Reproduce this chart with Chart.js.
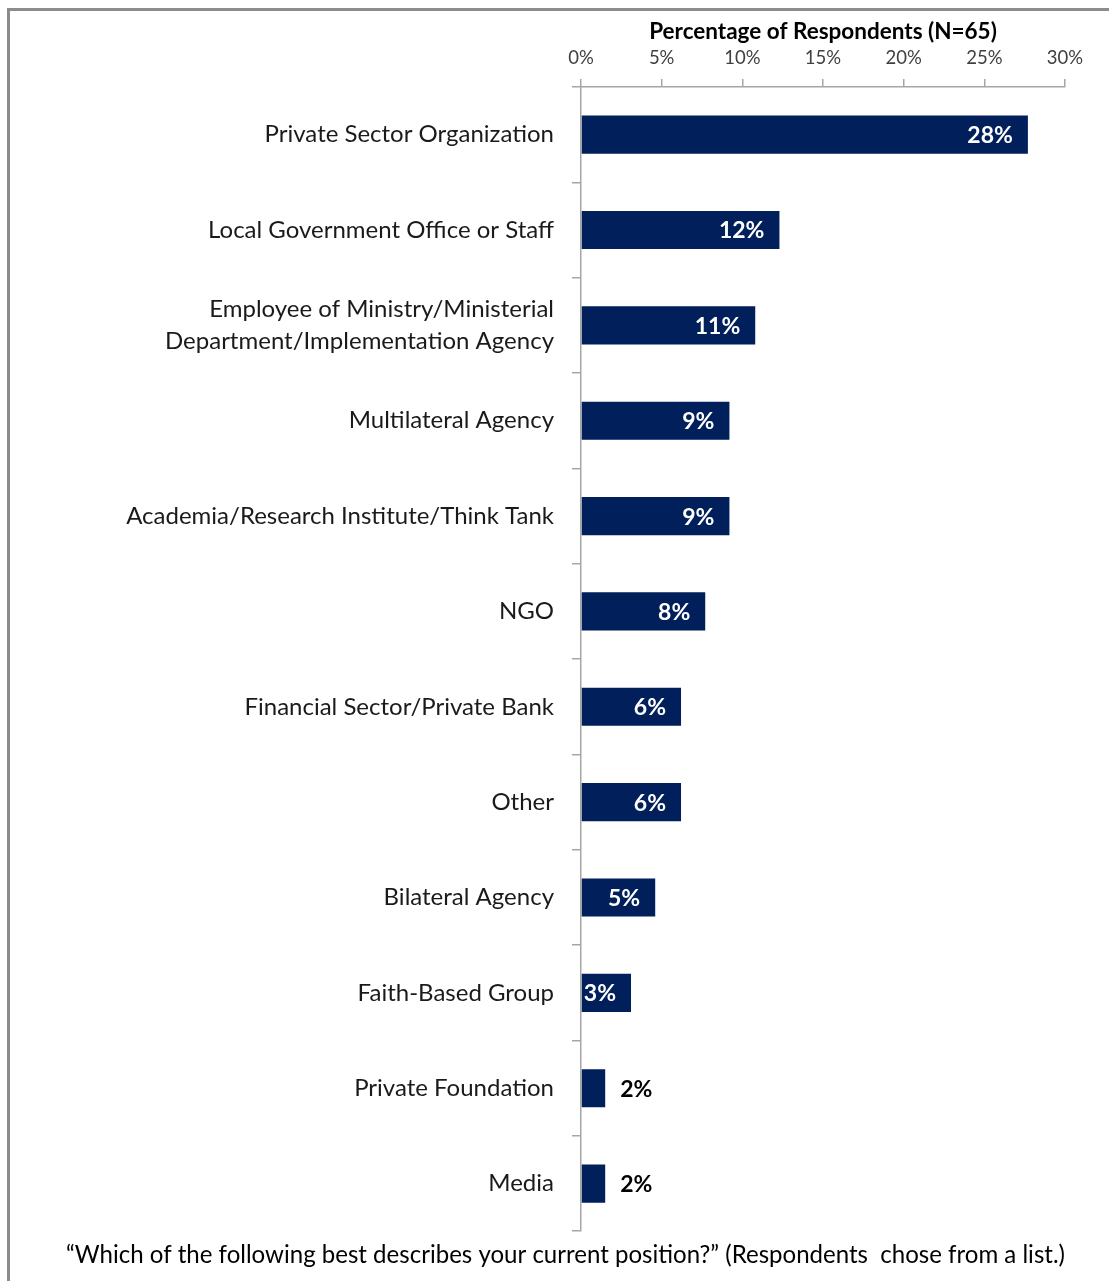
<!DOCTYPE html>
<html>
<head>
<meta charset="utf-8">
<script src="https://cdn.jsdelivr.net/npm/chart.js@4.4.1/dist/chart.umd.min.js"></script>
<style>
  html, body { margin: 0; padding: 0; background: #fff; overflow: hidden; }
  #frame { position: absolute; left: 7px; top: 8px; width: 1300px; height: 1400px;
           border-left: 3px solid #8c8c8c; border-top: 3px solid #8c8c8c; }
  #wrap { position: absolute; left: 0; top: 0; width: 1109px; height: 1281px; }
</style>
</head>
<body>
<div id="frame"></div>
<div id="wrap"><canvas id="myChart" width="1109" height="1281"></canvas></div>
<script>
// categories and values (percent of 65 respondents)
const categories = [
    'Private Sector Organization',
    'Local Government Office or Staff',
    ['Employee of Ministry/Ministerial', 'Department/Implementation Agency'],
    'Multilateral Agency',
    'Academia/Research Institute/Think Tank',
    'NGO',
    'Financial Sector/Private Bank',
    'Other',
    'Bilateral Agency',
    'Faith-Based Group',
    'Private Foundation',
    'Media'
];
const percentValues = [27.7, 12.3, 10.8, 9.2, 9.2, 7.7, 6.2, 6.2, 4.6, 3.1, 1.5, 1.5];
const xTicks = [0, 5, 10, 15, 20, 25, 30];

const axisTitle = 'Percentage of Respondents (N=65)';
const footnote = '\u201CWhich of the following best describes your current position?\u201D (Respondents  chose from a list.)';

const barColor = '#001f5b';
const axisGray = '#a6a6a6';

// value labels: inside the bar end in white, outside in black when the bar is short
const barLabels = {
    id: 'barLabels',
    afterDatasetsDraw(chart) {
        var ctx = chart.ctx;
        var meta = chart.getDatasetMeta(0);
        ctx.save();
        ctx.font = 'bold 23px Lato';
        ctx.textBaseline = 'middle';
        meta.data.forEach((bar, i) => {
            var text = Math.round(percentValues[i]) + '%';
            var w = ctx.measureText(text).width;
            var barWidth = bar.x - bar.base;
            if (barWidth > w + 12) {
                ctx.fillStyle = '#ffffff';
                ctx.textAlign = 'right';
                ctx.fillText(text, bar.x - 15, bar.y + 1);
            } else {
                ctx.fillStyle = '#000000';
                ctx.textAlign = 'left';
                ctx.fillText(text, bar.x + 15, bar.y + 1);
            }
        });
        ctx.restore();
    }
};

var ctx = document.getElementById('myChart').getContext('2d');
var myChart = new Chart(ctx, {
    type: 'bar',
    data: {
        labels: categories,
        datasets: [{
            data: percentValues,
            backgroundColor: barColor,
            borderWidth: 0,
            barPercentage: 0.4,
            categoryPercentage: 1
        }]
    },
    options: {
        indexAxis: 'y',
        responsive: false,
        animation: false,
        layout: { padding: { left: 66, right: 44, top: 14, bottom: 0 } },
        plugins: {
            legend: { display: false },
            tooltip: { enabled: false },
            title: {
                display: true,
                position: 'bottom',
                text: footnote,
                color: '#000',
                font: { family: 'Lato', size: 24.8, weight: 'normal' },
                padding: { top: 9, bottom: 11 }
            }
        },
        scales: {
            x: {
                position: 'top',
                min: 0,
                max: 30,
                afterBuildTicks: function(scale) {
                    scale.ticks = xTicks.map(v => ({ value: v }));
                },
                afterFit: function(scale) { scale.height = 73; },
                ticks: {
                    padding: 10,
                    color: '#404040',
                    font: { family: 'Lato', size: 18.5 },
                    callback: v => v + '%'
                },
                grid: { drawOnChartArea: false, drawTicks: true, tickLength: 8, color: axisGray, lineWidth: 1.5 },
                border: { display: true, color: axisGray, width: 1.5 },
                title: {
                    display: true,
                    text: axisTitle,
                    color: '#000',
                    font: { family: 'Lato', size: 22.5, weight: 'bold' },
                    padding: { top: 4, bottom: 0 }
                }
            },
            y: {
                afterFit: function(scale) { scale.width = 515; },
                ticks: {
                    padding: 18,
                    color: '#1a1a1a',
                    font: { family: 'Lato', size: 24, lineHeight: 1.33 }
                },
                grid: { offset: true, drawOnChartArea: false, drawTicks: true, tickLength: 9, color: axisGray, lineWidth: 1.5 },
                border: { display: true, color: axisGray, width: 1.5 }
            }
        }
    },
    plugins: [barLabels]
});
</script>
</body>
</html>
